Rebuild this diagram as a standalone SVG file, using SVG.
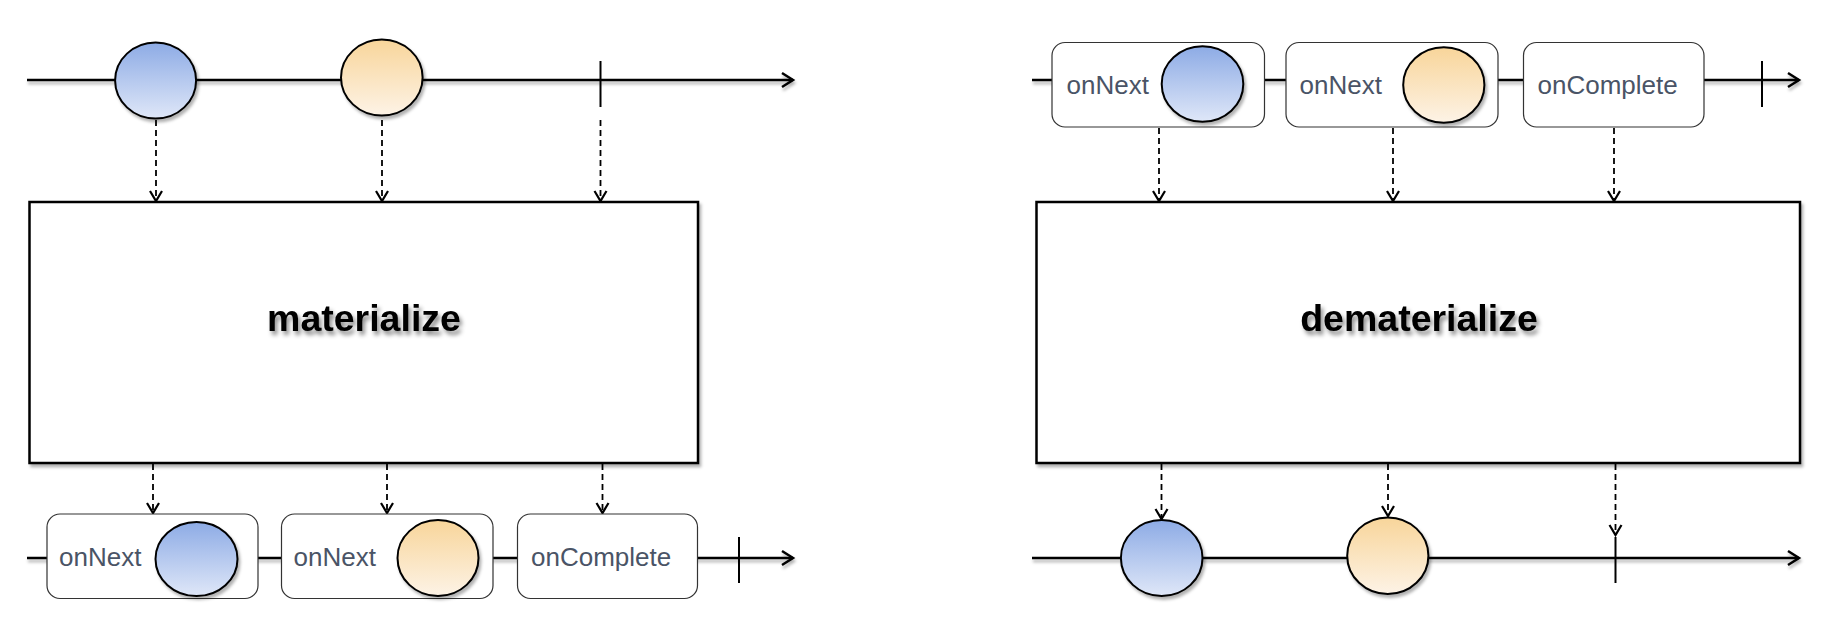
<svg xmlns="http://www.w3.org/2000/svg" width="1830" height="618" viewBox="0 0 1830 618">
<defs>
<linearGradient id="gBlue" x1="0" y1="0" x2="0" y2="1">
<stop offset="0" stop-color="#8dabe5"/>
<stop offset="1" stop-color="#dfe7f8"/>
</linearGradient>
<linearGradient id="gOrange" x1="0" y1="0" x2="0" y2="1">
<stop offset="0" stop-color="#f8d59a"/>
<stop offset="1" stop-color="#fdf3e6"/>
</linearGradient>
<filter id="sh" x="-20%" y="-40%" width="140%" height="180%">
<feDropShadow dx="2" dy="3" stdDeviation="1.8" flood-color="#000" flood-opacity="0.3"/>
</filter>
<filter id="lsh" filterUnits="userSpaceOnUse" x="0" y="0" width="1830" height="618">
<feDropShadow dx="1" dy="3" stdDeviation="1.5" flood-color="#000" flood-opacity="0.3"/>
</filter>
<filter id="tsh" x="-10%" y="-30%" width="120%" height="160%">
<feDropShadow dx="2.5" dy="4" stdDeviation="2.2" flood-color="#000" flood-opacity="0.45"/>
</filter>
<marker id="arrLine" markerUnits="userSpaceOnUse" markerWidth="20" markerHeight="20" refX="0" refY="0" orient="auto" overflow="visible">
<path d="M-11,-7 L0,0 L-11,7" fill="none" stroke="#000" stroke-width="2.5"/>
</marker>
<marker id="arrDash" markerUnits="userSpaceOnUse" markerWidth="20" markerHeight="20" refX="0" refY="0" orient="auto" overflow="visible">
<path d="M-10,-6 L0,0 L-10,6" fill="none" stroke="#000" stroke-width="2.2"/>
</marker>
</defs>
<style>
.tl{fill:none;stroke:#000;stroke-width:2.5;filter:url(#lsh)}
.tick{fill:none;stroke:#000;stroke-width:2}
.dash{fill:none;stroke:#000;stroke-width:1.8;stroke-dasharray:6 4;marker-end:url(#arrDash)}
.ball{stroke:#000;stroke-width:2;filter:url(#sh)}
.blue{fill:url(#gBlue)}
.orange{fill:url(#gOrange)}
.evt{fill:#fff;stroke:#333;stroke-width:1.2}
.lbl{font-family:"Liberation Sans",Arial,Helvetica,sans-serif;font-size:26px;fill:#4a5466}
.op{fill:#fff;stroke:#000;stroke-width:2.5;filter:url(#sh)}
.opt{font-family:"Liberation Sans",Arial,Helvetica,sans-serif;font-size:37.5px;font-weight:bold;fill:#000;text-anchor:middle;filter:url(#tsh)}
</style>
<rect width="1830" height="618" fill="#fff"/>

<g id="connectors">
<!-- timelines -->
<line class="tl" x1="27" y1="80" x2="793" y2="80" marker-end="url(#arrLine)"/>
<line class="tl" x1="27" y1="558" x2="793" y2="558" marker-end="url(#arrLine)"/>
<line class="tl" x1="1032" y1="80" x2="1799" y2="80" marker-end="url(#arrLine)"/>
<line class="tl" x1="1032" y1="558" x2="1799" y2="558" marker-end="url(#arrLine)"/>
<!-- completion ticks -->
<line class="tick" x1="600.5" y1="61" x2="600.5" y2="107"/>
<line class="tick" x1="739" y1="537" x2="739" y2="583"/>
<line class="tick" x1="1762" y1="61" x2="1762" y2="107"/>
<line class="tick" x1="1615.5" y1="537" x2="1615.5" y2="583"/>
<!-- materialize dashed -->
<line class="dash" x1="156" y1="120" x2="156" y2="201"/>
<line class="dash" x1="382" y1="120" x2="382" y2="201"/>
<line class="dash" x1="600.5" y1="120" x2="600.5" y2="201"/>
<line class="dash" x1="153" y1="464" x2="153" y2="513"/>
<line class="dash" x1="387" y1="464" x2="387" y2="513"/>
<line class="dash" x1="602.5" y1="464" x2="602.5" y2="513"/>
<!-- dematerialize dashed -->
<line class="dash" x1="1159" y1="128" x2="1159" y2="201"/>
<line class="dash" x1="1393" y1="128" x2="1393" y2="201"/>
<line class="dash" x1="1614" y1="128" x2="1614" y2="201"/>
<line class="dash" x1="1161.5" y1="464" x2="1161.5" y2="519"/>
<line class="dash" x1="1388" y1="464" x2="1388" y2="516"/>
<line class="dash" x1="1615.5" y1="464" x2="1615.5" y2="535"/>
</g>

<!-- materialize: source -->
<g id="m-src-1"><ellipse class="ball blue" cx="155.6" cy="80.5" rx="40.5" ry="38"/></g>
<g id="m-src-2"><ellipse class="ball orange" cx="381.8" cy="77.5" rx="40.8" ry="38"/></g>

<g id="materialize">
<rect class="op" x="29.5" y="202" width="668.5" height="261"/>
<text class="opt" x="364" y="331">materialize</text>
</g>

<!-- materialize: output -->
<g id="m-out-1">
<rect class="evt" x="47" y="514" width="211" height="84.5" rx="13" ry="13"/>
<text class="lbl" x="59" y="566">onNext</text>
<ellipse class="ball blue" cx="196.5" cy="559" rx="41" ry="37"/>
</g>
<g id="m-out-2">
<rect class="evt" x="281.5" y="514" width="211.5" height="84.5" rx="13" ry="13"/>
<text class="lbl" x="293.5" y="566">onNext</text>
<ellipse class="ball orange" cx="438" cy="558" rx="40.5" ry="38"/>
</g>
<g id="m-out-3">
<rect class="evt" x="517.5" y="514" width="180" height="84.5" rx="13" ry="13"/>
<text class="lbl" x="531" y="566">onComplete</text>
</g>

<!-- dematerialize: source -->
<g id="d-src-1">
<rect class="evt" x="1052" y="42.5" width="212.5" height="84.5" rx="13" ry="13"/>
<text class="lbl" x="1066.5" y="94">onNext</text>
<ellipse class="ball blue" cx="1202.5" cy="84" rx="40.8" ry="37.8"/>
</g>
<g id="d-src-2">
<rect class="evt" x="1286" y="42.5" width="212" height="84.5" rx="13" ry="13"/>
<text class="lbl" x="1299.5" y="94">onNext</text>
<ellipse class="ball orange" cx="1443.8" cy="85" rx="40.6" ry="37.7"/>
</g>
<g id="d-src-3">
<rect class="evt" x="1523.5" y="42.5" width="180.5" height="84.5" rx="13" ry="13"/>
<text class="lbl" x="1537.5" y="94">onComplete</text>
</g>

<g id="dematerialize">
<rect class="op" x="1036.5" y="202" width="763.5" height="261"/>
<text class="opt" x="1419" y="331">dematerialize</text>
</g>

<!-- dematerialize: output -->
<g id="d-out-1"><ellipse class="ball blue" cx="1161.7" cy="558" rx="40.8" ry="38"/></g>
<g id="d-out-2"><ellipse class="ball orange" cx="1387.8" cy="555.7" rx="40.6" ry="38.3"/></g>
</svg>
